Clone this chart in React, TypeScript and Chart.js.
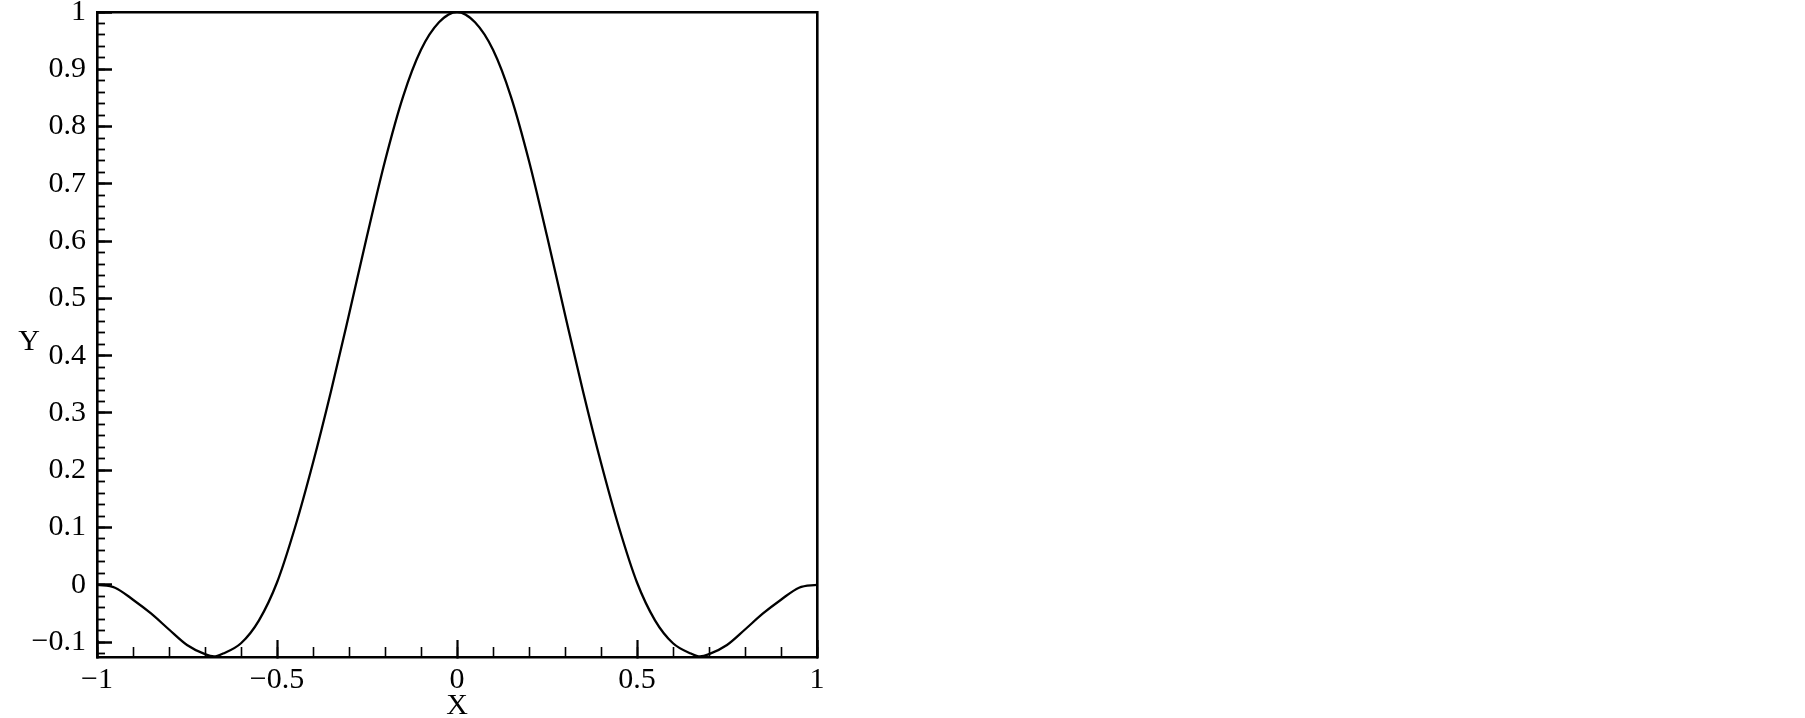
import React, { useEffect, useRef } from "react";
import { Chart, registerables } from "chart.js";

Chart.register(...registerables);

const xValues = [
  -1, -0.95, -0.9, -0.85, -0.8, -0.75, -0.7, -0.675, -0.65, -0.6, -0.55, -0.5,
  -0.45, -0.4, -0.35, -0.3, -0.25, -0.2, -0.15, -0.1, -0.05, 0,
  0.05, 0.1, 0.15, 0.2, 0.25, 0.3, 0.35, 0.4, 0.45, 0.5,
  0.55, 0.6, 0.65, 0.675, 0.7, 0.75, 0.8, 0.85, 0.9, 0.95, 1,
];
const yValues = [
  0, -0.005, -0.026, -0.05, -0.078, -0.105, -0.121, -0.125, -0.12, -0.102, -0.062, 0.004,
  0.1, 0.213, 0.338, 0.472, 0.609, 0.74, 0.852, 0.934, 0.982, 1.0,
  0.982, 0.934, 0.852, 0.74, 0.609, 0.472, 0.338, 0.213, 0.1, 0.004,
  -0.062, -0.102, -0.12, -0.125, -0.121, -0.105, -0.078, -0.05, -0.026, -0.005, 0,
];

const X_MIN = -1;
const X_MAX = 1;
const Y_MIN = -0.126;
const Y_MAX = 1;
const X_MAJOR_STEP = 0.5;
const X_MINOR_STEP = 0.1;
const Y_MAJOR_STEP = 0.1;
const Y_MINOR_STEP = 0.02;
const X_TITLE = "X";
const Y_TITLE = "Y";

const FONT_FAMILY = '"Liberation Serif", "Times New Roman", serif';
const fmt = (v: number | string) => String(Number(v)).replace("-", "\u2212");

const yTitlePlugin = {
  id: "yTitleUpright",
  afterDraw(chart: any) {
    const { ctx, chartArea } = chart;
    ctx.save();
    ctx.font = `30px ${FONT_FAMILY}`;
    ctx.fillStyle = "#000";
    ctx.textAlign = "center";
    ctx.textBaseline = "middle";
    ctx.fillText(Y_TITLE, chart.scales.y.left + 29, (chartArea.top + chartArea.bottom) / 2 + 8);
    ctx.restore();
  },
};

export default function App() {
  const canvasRef = useRef<HTMLCanvasElement | null>(null);

  useEffect(() => {
    const canvas = canvasRef.current;
    if (!canvas) return;
    const points = xValues.map((x, i) => ({ x, y: yValues[i] }));
    const tickFont = { family: FONT_FAMILY, size: 30 };

    const chart = new Chart(canvas, {
      type: "line",
      data: {
        datasets: [
          {
            data: points,
            borderColor: "#000",
            borderWidth: 2.3,
            pointRadius: 0,
            cubicInterpolationMode: "monotone",
            fill: false,
            xAxisID: "x",
            yAxisID: "y",
          },
        ],
      },
      options: {
        animation: false,
        responsive: false,
        maintainAspectRatio: false,
        events: [],
        layout: { padding: { left: 0, top: 12, right: 988, bottom: 0 } },
        plugins: { legend: { display: false }, tooltip: { enabled: false }, title: { display: false } },
        scales: {
          x: {
            type: "linear",
            axis: "x",
            position: "bottom",
            weight: 1,
            min: X_MIN,
            max: X_MAX,
            ticks: {
              stepSize: X_MAJOR_STEP,
              includeBounds: false,
              font: tickFont,
              color: "#000",
              padding: 22,
              maxRotation: 0,
              autoSkip: false,
              callback: (v: any) => fmt(v),
            },
            grid: {
              display: true,
              drawOnChartArea: false,
              drawTicks: true,
              tickLength: -17,
              tickWidth: 2.2,
              color: "#000",
            },
            border: { display: true, color: "#000", width: 2.6 },
            title: {
              display: true,
              text: X_TITLE,
              color: "#000",
              font: { family: FONT_FAMILY, size: 30 },
              padding: { top: 0, bottom: -6 },
            },
            afterFit: (s: any) => {
              s.height = 61;
              s.paddingLeft = 0;
              s.paddingRight = 0;
            },
          },
          xMinor: {
            type: "linear",
            axis: "x",
            position: "bottom",
            weight: 0,
            min: X_MIN,
            max: X_MAX,
            ticks: { stepSize: X_MINOR_STEP, includeBounds: false, display: false },
            grid: {
              display: true,
              drawOnChartArea: false,
              drawTicks: true,
              tickLength: -10,
              tickWidth: 1.6,
              color: "#000",
            },
            border: { display: false },
            afterFit: (s: any) => {
              s.height = 0;
              s.paddingLeft = 0;
              s.paddingRight = 0;
            },
          },
          x2: {
            type: "linear",
            axis: "x",
            position: "top",
            min: X_MIN,
            max: X_MAX,
            ticks: { display: false },
            grid: { display: true, drawOnChartArea: false, drawTicks: false },
            border: { display: true, color: "#000", width: 2.6 },
            afterFit: (s: any) => {
              s.height = 0;
              s.paddingLeft = 0;
              s.paddingRight = 0;
            },
          },
          y: {
            type: "linear",
            axis: "y",
            position: "left",
            weight: 1,
            min: Y_MIN,
            max: Y_MAX,
            ticks: {
              stepSize: Y_MAJOR_STEP,
              includeBounds: false,
              font: tickFont,
              color: "#000",
              padding: 26,
              autoSkip: false,
              callback: (v: any) => fmt(v),
            },
            grid: {
              display: true,
              drawOnChartArea: false,
              drawTicks: true,
              tickLength: -15,
              tickWidth: 2.5,
              color: "#000",
            },
            border: { display: true, color: "#000", width: 2.6 },
            afterFit: (s: any) => {
              s.width = 97;
              s.paddingTop = 0;
              s.paddingBottom = 0;
            },
          },
          yMinor: {
            type: "linear",
            axis: "y",
            position: "left",
            weight: 0,
            min: Y_MIN,
            max: Y_MAX,
            ticks: { stepSize: Y_MINOR_STEP, includeBounds: false, display: false },
            grid: {
              display: true,
              drawOnChartArea: false,
              drawTicks: true,
              tickLength: -8,
              tickWidth: 1.8,
              color: "#000",
            },
            border: { display: false },
            afterFit: (s: any) => {
              s.width = 0;
              s.paddingTop = 0;
              s.paddingBottom = 0;
            },
          },
          y2: {
            type: "linear",
            axis: "y",
            position: "right",
            min: Y_MIN,
            max: Y_MAX,
            ticks: { display: false },
            grid: { display: true, drawOnChartArea: false, drawTicks: false },
            border: { display: true, color: "#000", width: 2.6 },
            afterFit: (s: any) => {
              s.width = 0;
              s.paddingTop = 0;
              s.paddingBottom = 0;
            },
          },
        },
      } as any,
      plugins: [yTitlePlugin],
    });

    return () => chart.destroy();
  }, []);

  return (
    <div style={{ position: "absolute", left: 0, top: 0, width: 1805, height: 718, background: "#fff" }}>
      <canvas ref={canvasRef} width={1805} height={718} style={{ display: "block" }} />
    </div>
  );
}
